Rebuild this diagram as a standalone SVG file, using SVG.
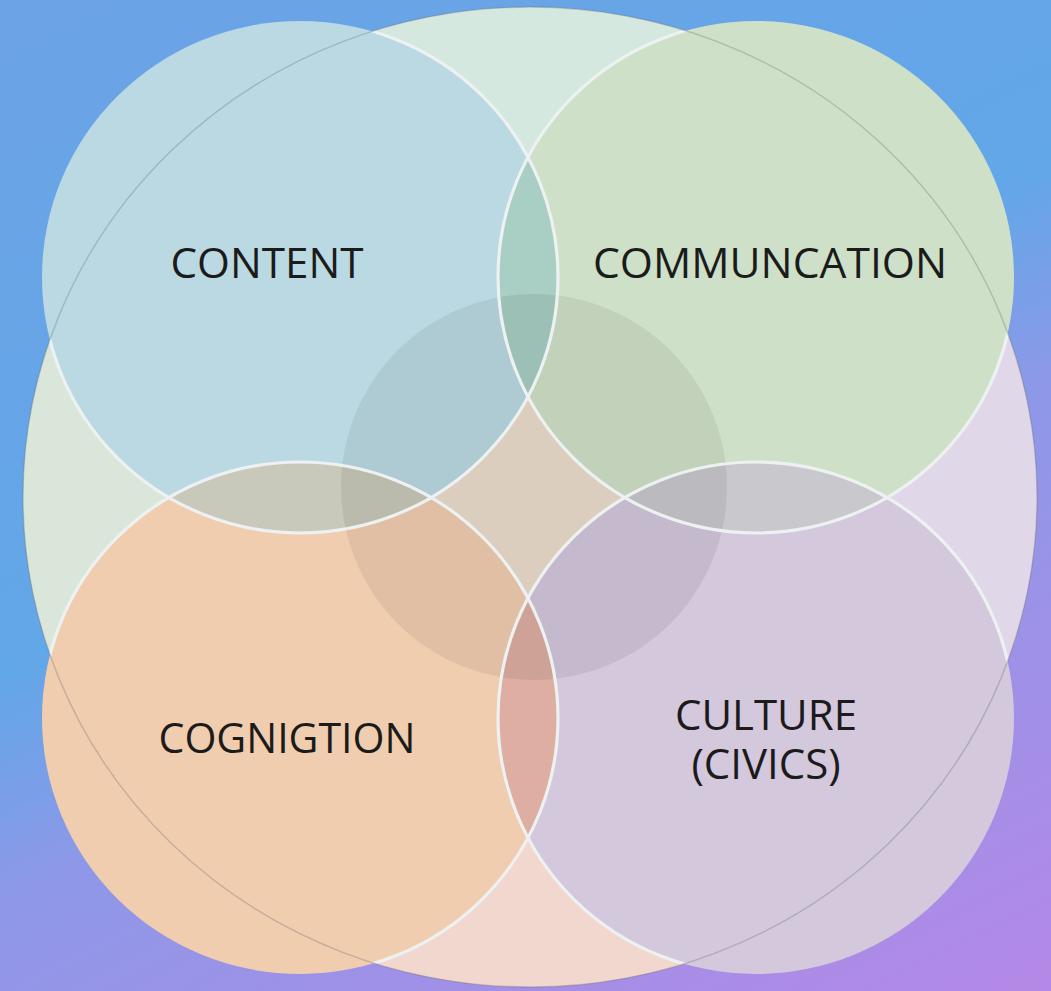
<svg xmlns="http://www.w3.org/2000/svg" width="1051" height="991" viewBox="0 0 1051 991">
  <defs>
    <linearGradient id="bg" gradientUnits="userSpaceOnUse" x1="0" y1="0" x2="600" y2="1213">
      <stop offset="0" stop-color="#6ca3e6"/>
      <stop offset="0.45" stop-color="#62a7e8"/>
      <stop offset="0.6" stop-color="#8e98e8"/>
      <stop offset="1" stop-color="#b488e6"/>
    </linearGradient>
    <clipPath id="cpBig"><ellipse cx="530" cy="497" rx="507" ry="490"/></clipPath>
    <clipPath id="cpA"><ellipse cx="300" cy="277" rx="258" ry="256"/></clipPath>
    <clipPath id="cpB"><ellipse cx="756" cy="277" rx="258" ry="256"/></clipPath>
    <clipPath id="cpC"><ellipse cx="300" cy="718" rx="258" ry="256"/></clipPath>
    <style>
      .lbl { font-family: "Open Sans", "Noto Sans", "Liberation Sans", sans-serif; font-size: 42px; fill: #1b1b1b; text-anchor: middle; }
      .ring { fill: none; stroke: #edf1f1; stroke-width: 3.2; }
      .edge { fill: none; stroke: #6e6e6e; stroke-opacity: 0.32; stroke-width: 1.4; }
    </style>
  </defs>

  <rect x="0" y="0" width="1051" height="991" fill="url(#bg)"/>

  <!-- background lens-shaped regions -->
  <g id="background-shape" clip-path="url(#cpBig)">
    <polygon points="530,497 -600,-633 1660,-633" fill="#d4e8df"/>
    <polygon points="530,497 -600,-633 -600,1627" fill="#dae6d9"/>
    <polygon points="530,497 1660,-633 1660,1627" fill="#e0d8e8"/>
    <polygon points="530,497 -600,1627 1660,1627" fill="#f1d7cd"/>
    <circle cx="534" cy="487" r="193" fill="#ebddcd"/>
  </g>

  <!-- main circles -->
  <g id="content">
    <ellipse cx="300" cy="277" rx="258" ry="256" fill="#bbd9e2"/>
  </g>
  <g id="communcation">
    <ellipse cx="756" cy="277" rx="258" ry="256" fill="#cfe0c8"/>
  </g>
  <g id="cognigtion">
    <ellipse cx="300" cy="718" rx="258" ry="256" fill="#f1cdb0"/>
  </g>
  <g id="culture">
    <ellipse cx="756" cy="718" rx="258" ry="256" fill="#d4c8dc"/>
  </g>

  <!-- overlaps -->
  <g id="overlaps">
    <ellipse cx="756" cy="277" rx="258" ry="256" fill="#a9cec3" clip-path="url(#cpA)"/>
    <ellipse cx="300" cy="718" rx="258" ry="256" fill="#c8c9ba" clip-path="url(#cpA)"/>
    <ellipse cx="756" cy="718" rx="258" ry="256" fill="#c9c8cd" clip-path="url(#cpB)"/>
    <ellipse cx="756" cy="718" rx="258" ry="256" fill="#deaea3" clip-path="url(#cpC)"/>
  </g>

  <!-- center circle -->
  <g id="center">
    <circle cx="534" cy="487" r="193" fill="#000000" fill-opacity="0.065"/>
  </g>

  <!-- outlines -->
  <g id="outlines">
    <g clip-path="url(#cpBig)">
      <ellipse class="ring" cx="300" cy="277" rx="258" ry="256"/>
      <ellipse class="ring" cx="756" cy="277" rx="258" ry="256"/>
      <ellipse class="ring" cx="300" cy="718" rx="258" ry="256"/>
      <ellipse class="ring" cx="756" cy="718" rx="258" ry="256"/>
    </g>
    <ellipse class="edge" cx="530" cy="497" rx="507" ry="490"/>
  </g>

  <!-- labels -->
  <g id="labels">
    <text class="lbl" x="267" y="278" textLength="193" lengthAdjust="spacingAndGlyphs">CONTENT</text>
    <text class="lbl" x="770" y="278" textLength="354" lengthAdjust="spacingAndGlyphs">COMMUNCATION</text>
    <text class="lbl" x="287" y="753" textLength="257" lengthAdjust="spacingAndGlyphs">COGNIGTION</text>
    <text class="lbl"><tspan x="766" y="730">CULTURE</tspan><tspan x="766" y="779">(CIVICS)</tspan></text>
  </g>
</svg>
